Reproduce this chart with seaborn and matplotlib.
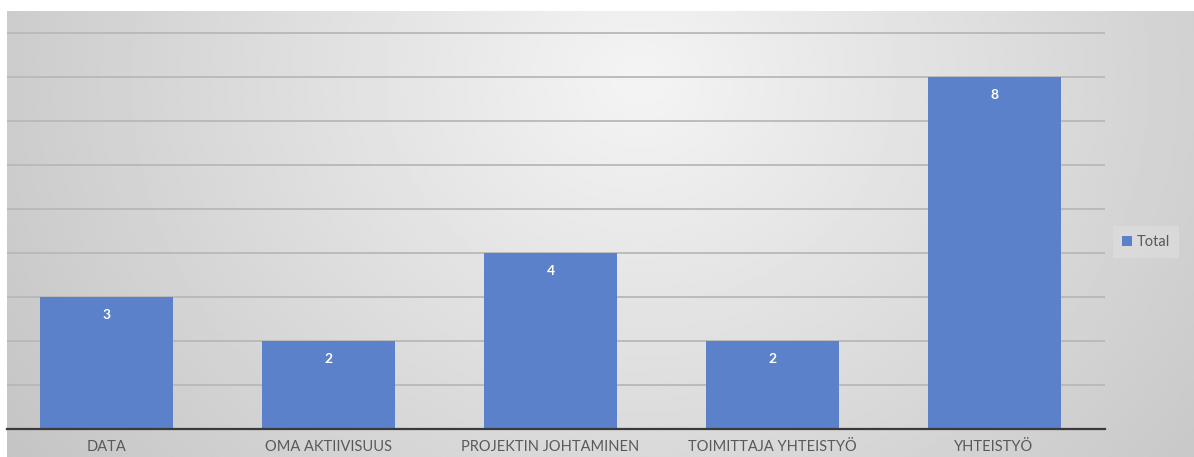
import numpy as np
import pandas as pd
import matplotlib.pyplot as plt
import seaborn as sns
from matplotlib.patches import Patch

categories = ['DATA', 'OMA AKTIIVISUUS', 'PROJEKTIN JOHTAMINEN', 'TOIMITTAJA YHTEISTYÖ', 'YHTEISTYÖ']
values = [3, 2, 4, 2, 8]
series = 'Total'

df = pd.DataFrame({'Kategoria': categories, 'Arvo': values, 'Sarja': series})

sns.set_theme(style='white')
plt.rcParams['font.family'] = ['Lato', 'DejaVu Sans']

W, H = 1194, 457
fig = plt.figure(figsize=(W / 100, H / 100), dpi=100)

# radial gradient background (Excel style)
bg = fig.add_axes([7 / W, 0, 1 - 7 / W, (H - 11) / H])
bg.set_axis_off()
xx, yy = np.meshgrid(np.linspace(7, W, 400), np.linspace(11, H, 200))
r = np.sqrt(((xx - 640) / 640) ** 2 + ((yy - 80) / 560) ** 2)
shade = np.clip(244 - 40 * r, 190, 250) / 255
bg.imshow(shade, cmap='gray', vmin=0, vmax=1, aspect='auto',
          extent=[0, 1, 0, 1], interpolation='bilinear')
bg.set_xlim(0, 1)
bg.set_ylim(0, 1)

ax = fig.add_axes([7 / W, (H - 429) / H, (1105 - 7) / W, (429 - 11) / H])
ax.set_facecolor('none')
bar_color = '#5A81C9'
sns.barplot(data=df, x='Kategoria', y='Arvo', hue='Sarja', palette=[bar_color],
            width=0.6, saturation=1, ax=ax, legend=False, zorder=3, linewidth=0)

ax.set_ylim(0, 9.5)
ax.set_xlim(-0.45, 4.5)
ax.set_yticks(range(1, 10))
ax.yaxis.grid(True, color='#b8b8b8', linewidth=1.3, zorder=0)
ax.set_axisbelow(True)
ax.tick_params(axis='y', left=False, labelleft=False)
ax.tick_params(axis='x', bottom=False, labelsize=10.5, labelcolor='#595959', pad=2)
ax.set_xlabel('')
ax.set_ylabel('')
for s in ['top', 'right', 'left']:
    ax.spines[s].set_visible(False)
ax.spines['bottom'].set_color('#3a3a3a')
ax.spines['bottom'].set_linewidth(1.6)
ax.spines['bottom'].set_zorder(4)

for i, v in enumerate(values):
    ax.text(i, v - 0.42, str(v), ha='center', va='center', color='white',
            fontsize=10, fontweight='bold', zorder=5)

handle = Patch(facecolor=bar_color, edgecolor='none', label=series)
leg = fig.legend(handles=[handle], loc='center', bbox_to_anchor=(1146 / W, 1 - 242 / H),
                 frameon=True, fontsize=10.5, handlelength=0.7, handleheight=0.7,
                 handletextpad=0.3, borderpad=0.6, fancybox=False)
leg.get_frame().set_facecolor('#dcdcdc')
leg.get_frame().set_edgecolor('none')
for t in leg.get_texts():
    t.set_color('#595959')

fig.savefig('out.png', dpi=100)
